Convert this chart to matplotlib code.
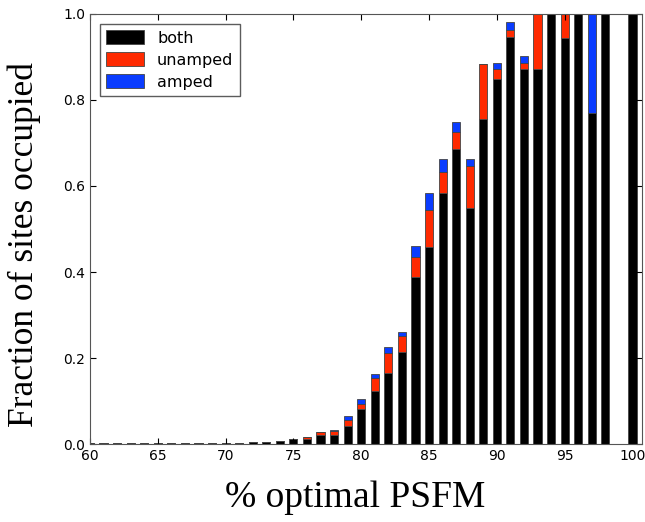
import matplotlib
matplotlib.use("Agg")
import matplotlib.pyplot as plt
import numpy as np

# % optimal PSFM bins
psfm = list(range(60, 101))

# fraction of sites occupied, per category (stacked: both, unamped, amped)
both = [0.002, 0.002, 0.002, 0.002, 0.002, 0.002, 0.002, 0.002, 0.002, 0.002,
        0.003, 0.003, 0.004, 0.005, 0.008, 0.011, 0.012, 0.021, 0.022, 0.043,
        0.081, 0.124, 0.164, 0.214, 0.388, 0.459, 0.583, 0.685, 0.548, 0.756,
        0.849, 0.947, 0.872, 0.871, 1.000, 0.945, 1.000, 0.769, 1.000, 0.000,
        1.000]
unamped = [0, 0, 0, 0, 0, 0, 0, 0, 0, 0,
           0, 0, 0, 0, 0, 0, 0.004, 0.007, 0.009, 0.014,
           0.012, 0.029, 0.048, 0.037, 0.046, 0.085, 0.049, 0.041, 0.099, 0.128,
           0.023, 0.016, 0.015, 0.129, 0, 0.055, 0, 0, 0, 0,
           0]
amped = [0, 0, 0, 0, 0, 0, 0, 0, 0, 0,
         0, 0, 0, 0, 0, 0, 0, 0, 0.002, 0.007,
         0.011, 0.010, 0.014, 0.009, 0.027, 0.040, 0.030, 0.022, 0.016, 0,
         0.015, 0.018, 0.016, 0, 0, 0, 0, 0.231, 0, 0,
         0]

both = np.array(both)
unamped = np.array(unamped)
amped = np.array(amped)

fig = plt.figure(figsize=(6.45, 5.22), dpi=100)
ax = fig.add_axes([0.1395, 0.1494, 0.8558, 0.8238])

w = 0.6
kw = dict(width=w, edgecolor='#444444', linewidth=0.6)
ax.bar(psfm, both, color='black', label='both', **kw)
ax.bar(psfm, unamped, bottom=both, color='#ff2a00', label='unamped', **kw)
ax.bar(psfm, amped, bottom=both + unamped, color='#0a3cff', label='amped', **kw)

ax.set_xlim(60, 100.7)
ax.set_ylim(0, 1.0)
ax.set_xticks(range(60, 101, 5))
ax.set_yticks(np.arange(0, 1.01, 0.2))
ax.tick_params(direction='in', top=True, right=True, labelsize=10, length=4)
for s in ax.spines.values():
    s.set_color('#555555')

ax.set_xlabel('% optimal PSFM', family='Liberation Serif', fontsize=27)
ax.set_ylabel('Fraction of sites occupied', family='Liberation Serif', fontsize=25.5)
ax.xaxis.set_label_coords(0.48, -0.085)
ax.yaxis.set_label_coords(-0.088, 0.463)

leg = ax.legend(loc='upper left', fontsize=11.5, fancybox=False, handlelength=2.4,
                handleheight=1.0, borderaxespad=0.6, labelspacing=0.4)
leg.get_frame().set_edgecolor('#333333')

fig.savefig('out.png', dpi=100)
